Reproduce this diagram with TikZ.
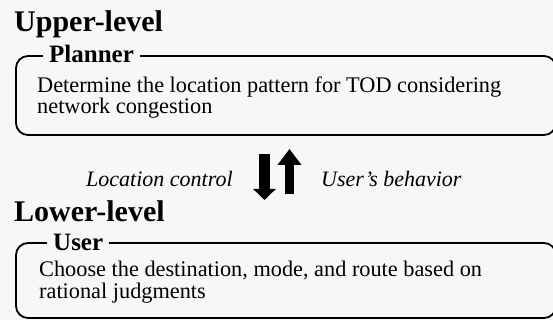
\documentclass[tikz,border=0pt]{standalone}
\usepackage{fontspec}
\setmainfont{Liberation Serif}
\usetikzlibrary{positioning, arrows.meta}
\definecolor{paper}{gray}{0.97}

\begin{document}
\begin{tikzpicture}[x=1pt, y=-1pt]
\tikzstyle{level}=[anchor=base west, inner sep=0pt, font=\fontsize{30}{30}\selectfont\bfseries]
\tikzstyle{title}=[anchor=base west, inner xsep=6pt, inner ysep=1pt, fill=paper, font=\fontsize{25}{25}\selectfont\bfseries]
\tikzstyle{body}=[anchor=base west, inner sep=0pt, align=left, font=\fontsize{22.3}{20}\selectfont]
\tikzstyle{label}=[anchor=base west, inner sep=0pt, font=\fontsize{22}{22}\selectfont\itshape]
\tikzstyle{frame}=[draw, line width=1.8pt, rounded corners=12pt]
\tikzstyle{bigarrow}=[line width=11pt, -{Triangle[width=22pt, length=11pt]}]

\def \left {16}
\def \right {556}

\fill[paper] (0,0) rectangle (553,320);
\useasboundingbox (0,0) rectangle (553,320);

% upper level
\node[level]				(upper) at		(14,	32)		{Upper-level};
\draw[frame] (\left,56) rectangle (\right,135);
\node[title]				(planner) at	(43,	63)		{Planner};
\node[body]					(plannertext) at	(37,	114)	{Determine the location pattern for TOD considering\\network congestion};

% between the levels
\coordinate (downtop) at (264.5, 154);
\coordinate (downtip) at (264.5, 200);
\coordinate (upbottom) at (289.5, 194);
\coordinate (uptip) at (289.5, 149);
\draw[bigarrow] (downtop) -- (downtip);
\draw[bigarrow, line width=9.5pt, -{Triangle[width=23pt, length=16pt]}] (upbottom) -- (uptip);
\node[label]				(control) at	(86,	186)	{Location control};
\node[label]				(behavior) at	(321,	186)	{User's behavior};

% lower level
\node[level]				(lower) at		(14,	221)	{Lower-level};
\draw[frame] (\left,243) rectangle (\right,318);
\node[title]				(user) at		(47,	250)	{User};
\node[body, font=\fontsize{22.3}{21.5}\selectfont]	(usertext) at	(39,	298)	{Choose the destination, mode, and route based on\\rational judgments};

\end{tikzpicture}
\end{document}
